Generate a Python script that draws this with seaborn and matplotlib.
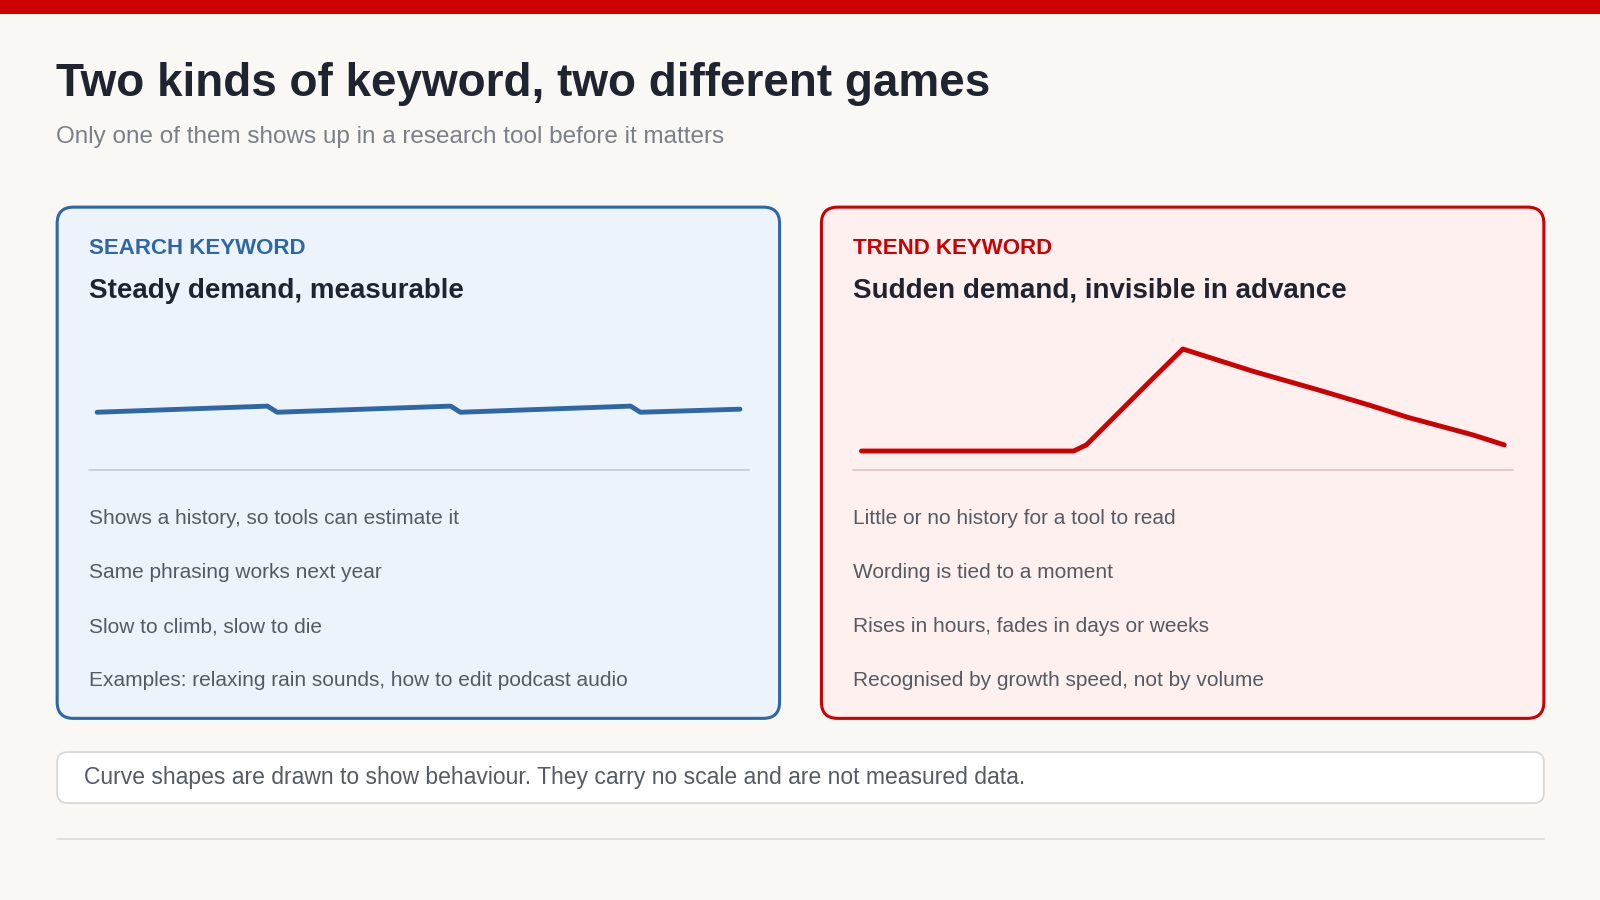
import numpy as np
import pandas as pd
import matplotlib
matplotlib.use("Agg")
import matplotlib.pyplot as plt
from matplotlib.patches import FancyBboxPatch, Rectangle
import seaborn as sns

sns.set_theme(style="white")
plt.rcParams['font.family'] = ['Liberation Sans', 'DejaVu Sans']

# illustrative curve shapes (no scale)
search_x = [0, 26.5, 28, 55, 56.5, 83, 84.5, 100]
search_y = [57, 63, 57, 63, 57, 63, 57, 60]
trend_x = [0, 33, 35, 45, 50, 52, 61, 71, 79, 85, 95, 100]
trend_y = [19, 19, 25, 88, 119, 115, 97, 79, 64, 52, 35, 25]

search_points = ["Shows a history, so tools can estimate it",
                 "Same phrasing works next year",
                 "Slow to climb, slow to die",
                 "Examples: relaxing rain sounds, how to edit podcast audio"]
trend_points = ["Little or no history for a tool to read",
                "Wording is tied to a moment",
                "Rises in hours, fades in days or weeks",
                "Recognised by growth speed, not by volume"]

BLUE = "#2e67a5"
RED = "#cc0000"
INK = "#1f2430"
GREY = "#555a63"

W, H = 1568, 882
fig = plt.figure(figsize=(16, 9), dpi=100)
fig.patch.set_facecolor("#faf8f5")
bg = fig.add_axes([0, 0, 1, 1])
bg.set_xlim(0, W)
bg.set_ylim(H, 0)
bg.axis("off")

bg.add_patch(Rectangle((0, 0), W, 14, color=RED, lw=0))
bg.text(55, 82, "Two kinds of keyword, two different games", fontsize=33,
        fontweight="bold", color=INK, va="center")
bg.text(55, 134, "Only one of them shows up in a research tool before it matters",
        fontsize=17.5, color="#7a7f88", va="center")

cards = [
    (56, "SEARCH KEYWORD", "Steady demand, measurable", search_points, BLUE, "#ecf3fb", "#c5cdd8"),
    (805, "TREND KEYWORD", "Sudden demand, invisible in advance", trend_points, RED, "#fdf0ef", "#e0c8c8"),
]
for x0, label, head, points, col, fill, rule in cards:
    bg.add_patch(FancyBboxPatch((x0, 203), 708, 501, boxstyle="round,pad=0,rounding_size=16",
                                fc=fill, ec=col, lw=2.2))
    bg.text(x0 + 31, 244, label, fontsize=16, fontweight="bold", color=col, va="center")
    bg.text(x0 + 31, 285, head, fontsize=20, fontweight="bold", color=INK, va="center")
    bg.plot([x0 + 31, x0 + 678], [461, 461], color=rule, lw=1.3)
    for i, p in enumerate(points):
        bg.text(x0 + 31, 508 + 53 * i, p, fontsize=15, color=GREY, va="center")

bg.add_patch(FancyBboxPatch((56, 737), 1457, 50, boxstyle="round,pad=0,rounding_size=10",
                            fc="white", ec="#d8d8d8", lw=1.3))
bg.text(82, 762, "Curve shapes are drawn to show behaviour. They carry no scale and are not measured data.",
        fontsize=16.5, color=GREY, va="center")
bg.plot([56, 1513], [822, 822], color="#dddddd", lw=1.3)

series = [
    (87, pd.DataFrame({"x": search_x, "y": search_y}), BLUE, 3.5),
    (836, pd.DataFrame({"x": trend_x, "y": trend_y}), RED, 3.5),
]
for left, df, col, lw in series:
    ax = fig.add_axes([left / W, 1 - 461 / H, 647 / W, 131 / H])
    sns.lineplot(data=df, x="x", y="y", ax=ax, color=col, lw=lw)
    ax.set_xlim(-1.3, 101.4)
    ax.set_ylim(0, 131)
    ax.axis("off")
    ax.patch.set_alpha(0)

fig.savefig("out.png", dpi=100, facecolor=fig.get_facecolor())
